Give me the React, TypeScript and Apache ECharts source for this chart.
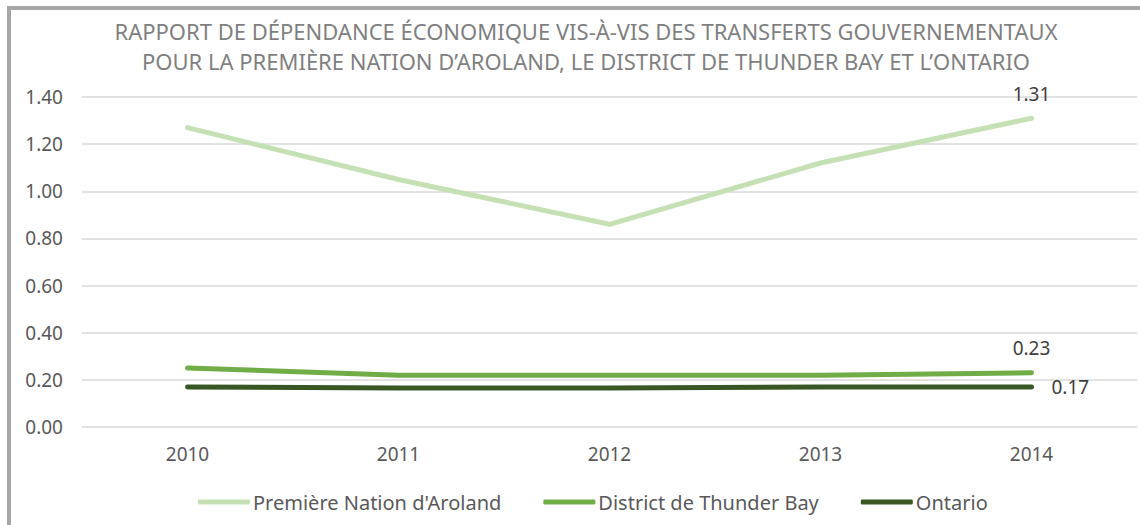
import React, { useEffect, useRef } from "react";
import * as echarts from "echarts";

const years = ["2010", "2011", "2012", "2013", "2014"];
const aroland = [1.27, 1.05, 0.86, 1.12, 1.31];
const thunderBay = [0.25, 0.22, 0.22, 0.22, 0.23];
const ontario = [0.17, 0.165, 0.165, 0.17, 0.17];
const seriesNames = ["Première Nation d'Aroland", "District de Thunder Bay", "Ontario"];
const colors = ["#c5e0b4", "#70ad47", "#385723"];
const titleLines = [
  "RAPPORT DE DÉPENDANCE ÉCONOMIQUE VIS-À-VIS DES TRANSFERTS GOUVERNEMENTAUX",
  "POUR LA PREMIÈRE NATION D’AROLAND, LE DISTRICT DE THUNDER BAY ET L’ONTARIO",
];

export default function App() {
  const ref = useRef<HTMLDivElement>(null);
  useEffect(() => {
    const chart = echarts.init(ref.current!, null, { renderer: "svg" });
    const font = "'Noto Sans', sans-serif";
    const data = [aroland, thunderBay, ontario];
    const labelPos = ["top", "top", "right"];
    chart.setOption({
      animation: false,
      textStyle: { fontFamily: font },
      title: {
        text: titleLines.join("\n"),
        left: 581,
        textAlign: "center",
        top: 11,
        textStyle: { fontFamily: font, fontSize: 22, fontWeight: "normal", color: "#7f7f7f", lineHeight: 30 },
      },
      graphic: [
        { type: "rect", shape: { x: 7, y: 6, width: 1140, height: 4 }, style: { fill: "#a6a6a6" } },
        { type: "rect", shape: { x: 7, y: 6, width: 4, height: 530 }, style: { fill: "#a6a6a6" } },
      ],
      legend: {
        top: 487,
        left: 193,
        itemWidth: 52,
        itemHeight: 5,
        itemGap: 42,
        icon: "roundRect",
        textStyle: { fontFamily: font, fontSize: 20, color: "#595959", padding: [0, 0, 0, -2] },
        data: seriesNames,
      },
      grid: { left: 82, right: 3, top: 97, bottom: 98, containLabel: false },
      xAxis: {
        type: "category",
        data: years,
        axisLine: { show: false },
        axisTick: { show: false },
        axisLabel: { color: "#595959", fontSize: 19, margin: 17, fontFamily: font },
      },
      yAxis: {
        type: "value",
        min: 0,
        max: 1.4,
        interval: 0.2,
        axisLabel: { color: "#595959", fontSize: 19, margin: 19, formatter: (v: number) => v.toFixed(2), fontFamily: font },
        splitLine: { lineStyle: { color: "#d9d9d9", width: 1.5 } },
      },
      series: seriesNames.map((name, i) => ({
        name,
        type: "line",
        data: data[i].map((v, j) => ({
          value: v,
          label: {
            show: j === data[i].length - 1,
            position: labelPos[i],
            distance: i === 2 ? 20 : 15,
            formatter: (p: any) => Number(p.value).toFixed(2),
            color: "#404040",
            fontSize: 19,
            fontFamily: font,
          },
        })),
        symbol: "circle",
        symbolSize: 0,
        showSymbol: true,
        lineStyle: { color: colors[i], width: 5, cap: "round" },
        itemStyle: { color: colors[i] },
        z: 3 - i,
      })),
    });
    return () => chart.dispose();
  }, []);
  return <div ref={ref} style={{ position: "absolute", left: 0, top: 0, width: 1140, height: 525, background: "#fff" }} />;
}
